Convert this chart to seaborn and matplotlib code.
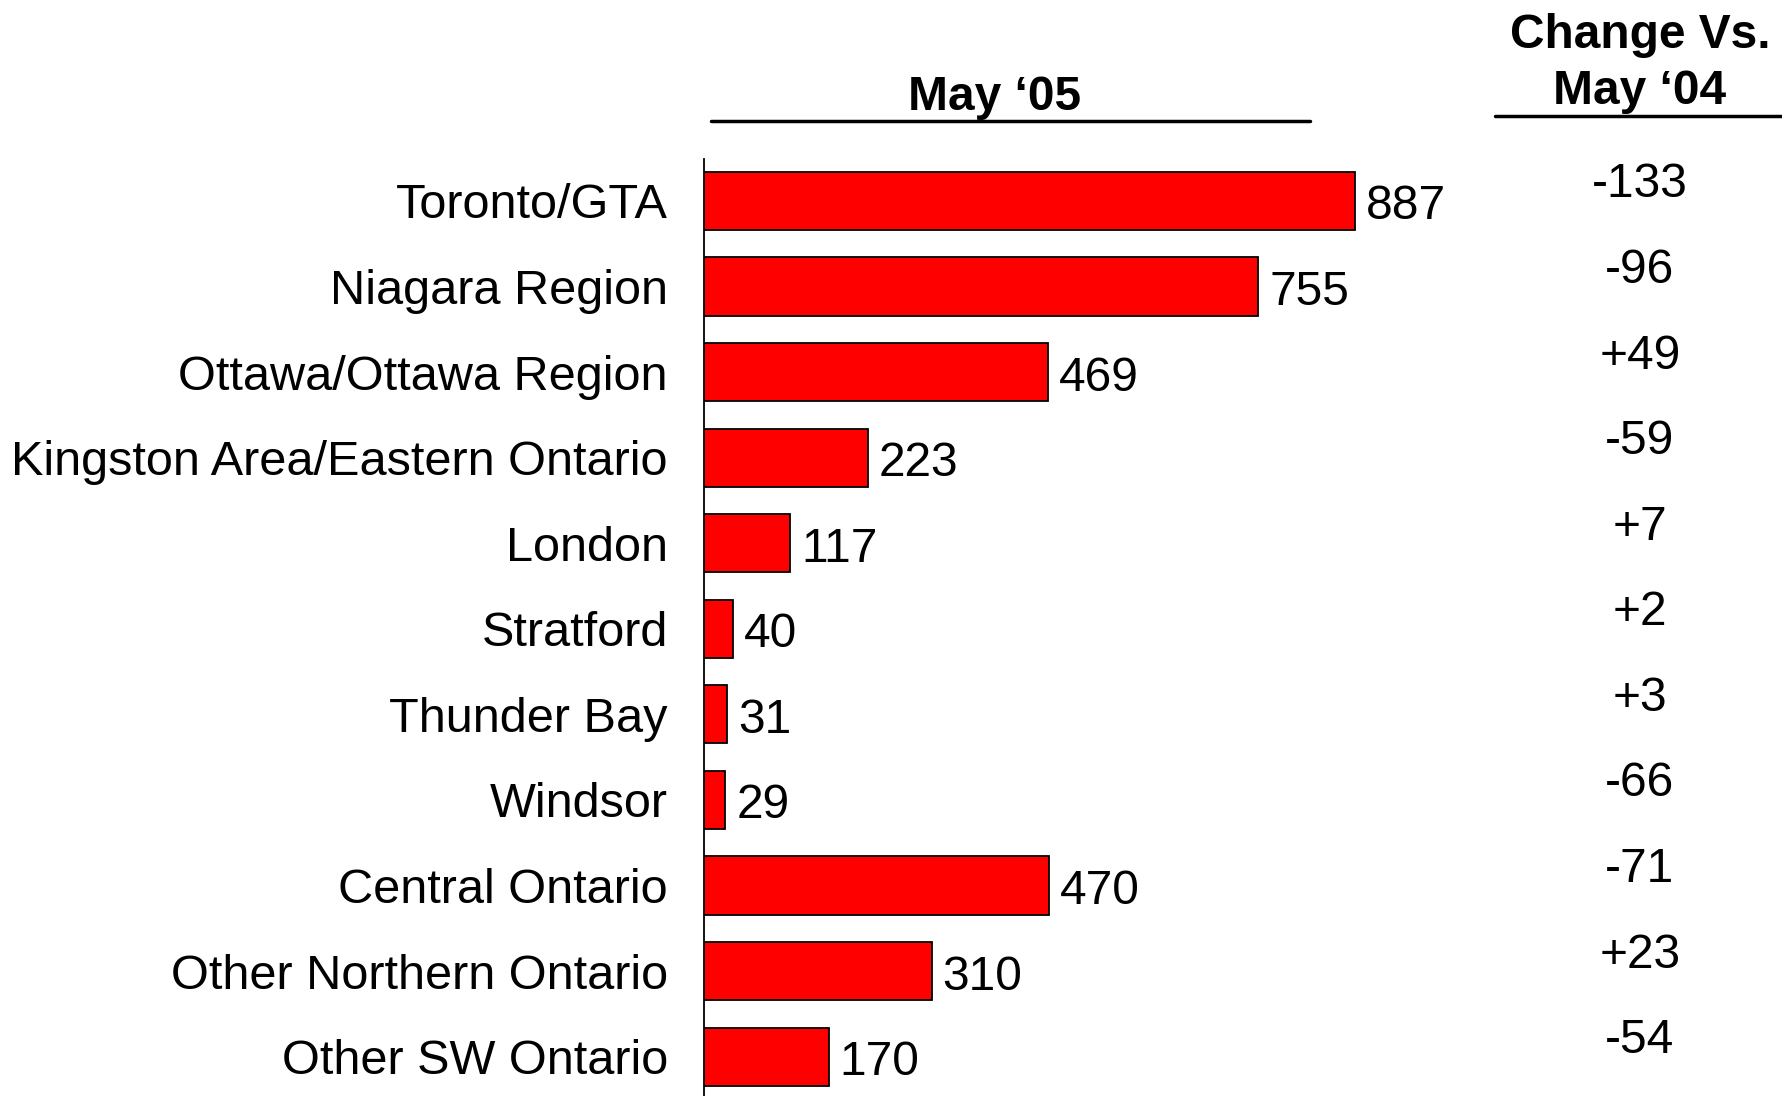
import matplotlib
matplotlib.use("Agg")
import matplotlib.pyplot as plt
import seaborn as sns
import pandas as pd
from matplotlib.lines import Line2D

regions = ["Toronto/GTA", "Niagara Region", "Ottawa/Ottawa Region",
           "Kingston Area/Eastern Ontario", "London", "Stratford",
           "Thunder Bay", "Windsor", "Central Ontario",
           "Other Northern Ontario", "Other SW Ontario"]
may05 = [887, 755, 469, 223, 117, 40, 31, 29, 470, 310, 170]
change = ["-133", "-96", "+49", "-59", "+7", "+2", "+3", "-66", "-71", "+23", "-54"]

sns.set_theme(style="white")
plt.rcParams['font.family'] = ['Liberation Sans', 'DejaVu Sans']

W, H = 1783, 1096
fig = plt.figure(figsize=(W / 100, H / 100), dpi=100)
ax = fig.add_axes([704 / W, 0.0, 1 - 704 / W, 1 - 159 / H])

df = pd.DataFrame({"region": regions, "value": may05})
sns.barplot(data=df, x="value", y="region", orient="h", color="#ff0000",
            saturation=1, edgecolor="black", linewidth=1.3, width=0.68, ax=ax)

px_per_unit = 0.734
ax.set_xlim(0, (W - 704) / px_per_unit)
ax.set_ylim(10.46, -0.49)

for s in ["top", "right", "bottom"]:
    ax.spines[s].set_visible(False)
ax.spines["left"].set_color("black")
ax.spines["left"].set_linewidth(1.3)
ax.set_xticks([])
ax.set_xlabel("")
ax.set_ylabel("")
ax.tick_params(axis="y", length=0, pad=26, labelsize=35, labelcolor="black")

fs = 34.5
for i, v in enumerate(may05):
    ax.annotate(str(v), xy=(v, i), xytext=(11, -6), textcoords="offset pixels",
                ha="left", va="center", fontsize=fs, color="black")

# change column
for i, c in enumerate(change):
    y_disp = ax.transData.transform((0, i))[1] + 16
    fig.text(1640 / W, y_disp / H, c, ha="center", va="center", fontsize=fs, color="black")

# headers
fig.text(995 / W, 1 - 98 / H, "May \u201805", ha="center", va="center",
         fontsize=fs, fontweight="bold", color="black")
fig.add_artist(Line2D([711 / W, 1310 / W], [1 - 121 / H, 1 - 121 / H],
                      color="black", linewidth=2.5, transform=fig.transFigure))
fig.text(1640 / W, 1 - 35 / H, "Change Vs.", ha="center", va="center",
         fontsize=fs, fontweight="bold", color="black")
fig.text(1640 / W, 1 - 92 / H, "May \u201804", ha="center", va="center",
         fontsize=fs, fontweight="bold", color="black")
fig.add_artist(Line2D([1495 / W, 1.0], [1 - 116 / H, 1 - 116 / H],
                      color="black", linewidth=2.5, transform=fig.transFigure))

fig.savefig("out.png", dpi=100, facecolor="white")
